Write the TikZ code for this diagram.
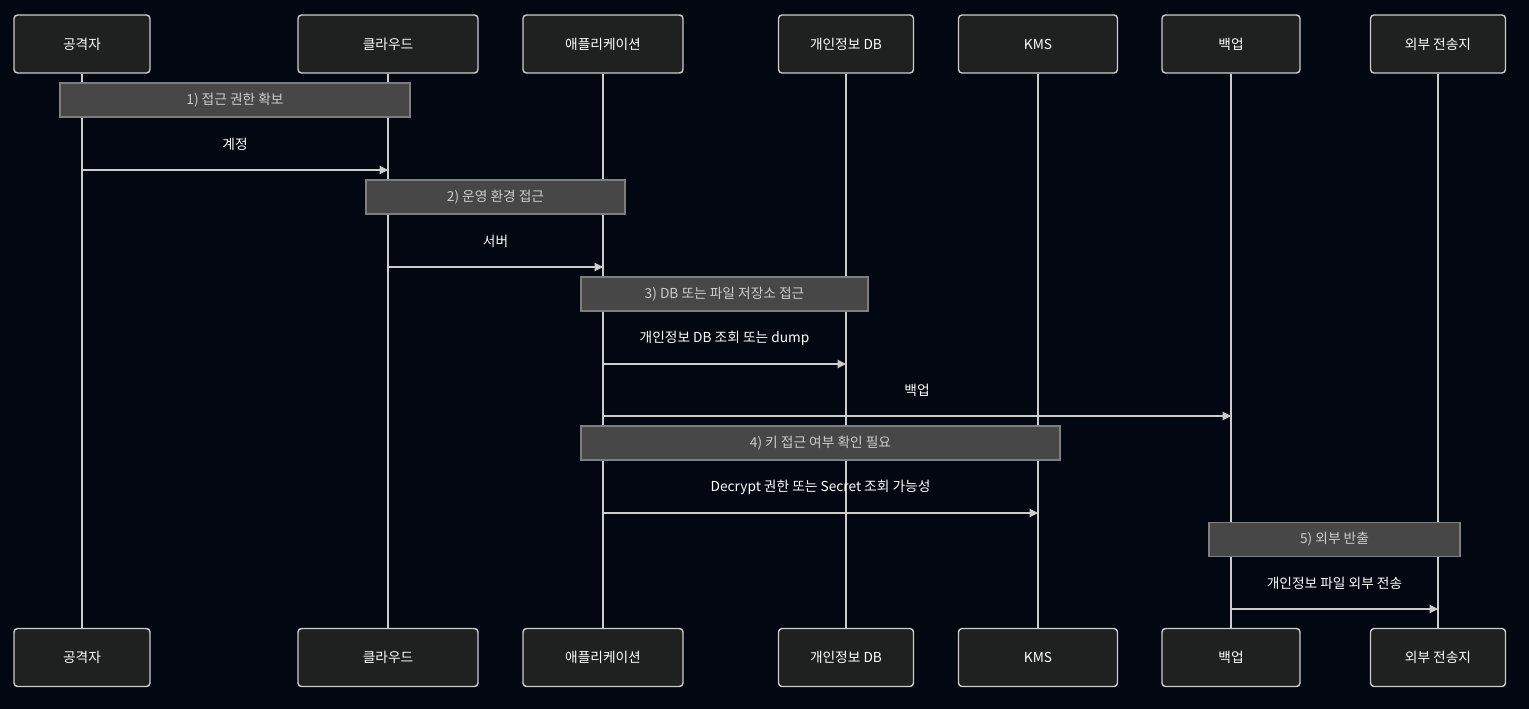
\documentclass[tikz,border=0pt]{standalone}
\usepackage{fontspec}
\setmainfont{Noto Sans CJK KR}
\usetikzlibrary{arrows.meta}
\definecolor{bgcol}{HTML}{030712}
\definecolor{actorfill}{HTML}{1F2020}
\definecolor{notefill}{HTML}{474747}
\definecolor{linecol}{HTML}{CCCCCC}
\tikzset{
  actor/.style={draw=linecol, fill=actorfill, text=white, rounded corners=1pt,
    minimum height=16.5pt, inner sep=0pt, font=\fontsize{3.9}{4.5}\selectfont},
  note/.style={draw=notefill!70!white, fill=notefill, text=linecol, inner sep=0pt,
    minimum height=9.7pt, font=\fontsize{3.9}{4.5}\selectfont},
  life/.style={draw=linecol, line width=0.35pt},
  msg/.style={draw=linecol, line width=0.3pt, -{Triangle[length=2.4pt,width=2.4pt]}},
  lbl/.style={text=white, font=\fontsize{3.9}{4.5}\selectfont},
}
\begin{document}
\begin{tikzpicture}[x=0.01cm, y=-0.01cm]
\fill[bgcol] (0,0) rectangle (1529,709);
% participants
\foreach \n/\x/\w/\t in {att/82/136/공격자, iam/388/180/클라우드/IAM/Access Key,
  app/603/160/애플리케이션/운영 서버, db/846/135/개인정보 DB,
  kms/1038/159/KMS/Secret Manager, bak/1231/138/백업/Export 저장소,
  ext/1438/135/외부 전송지}{
  \node[actor, minimum width=\w*0.01cm] (\n T) at (\x,44) {\t};
  \node[actor, minimum width=\w*0.01cm] (\n B) at (\x,657.5) {\t};
  \draw[life] (\n T) -- (\n B);
}
% notes
\node[note, minimum width=3.5cm] (n1) at (235,100) {1) 접근 권한 확보};
\node[note, minimum width=2.59cm] (n2) at (495.5,197) {2) 운영 환경 접근};
\node[note, minimum width=2.87cm] (n3) at (724.5,294) {3) DB 또는 파일 저장소 접근};
\node[note, minimum width=4.79cm] (n4) at (820.5,443) {4) 키 접근 여부 확인 필요};
\node[note, minimum width=2.51cm] (n5) at (1334.5,539.5) {5) 외부 반출};
% messages
\foreach \a/\b/\y/\lx/\t in {att/iam/170/235/계정/토큰/Access Key/운영자 계정 악용,
  iam/app/267/495.5/서버/콘솔/배포 환경 접근,
  app/db/364/724.5/개인정보 DB 조회 또는 dump,
  app/bak/416/917/백업/Export 파일 접근,
  app/kms/513/820.5/Decrypt 권한 또는 Secret 조회 가능성,
  bak/ext/609/1334.5/개인정보 파일 외부 전송}{
  \coordinate (\a-\b-s) at (\a T |- 0,\y);
  \coordinate (\a-\b-e) at (\b T |- 0,\y);
  \draw[msg] (\a-\b-s) -- (\a-\b-e);
  \node[lbl] (\a-\b-l) at (\lx,\y-26) {\t};
}
\end{tikzpicture}
\end{document}
